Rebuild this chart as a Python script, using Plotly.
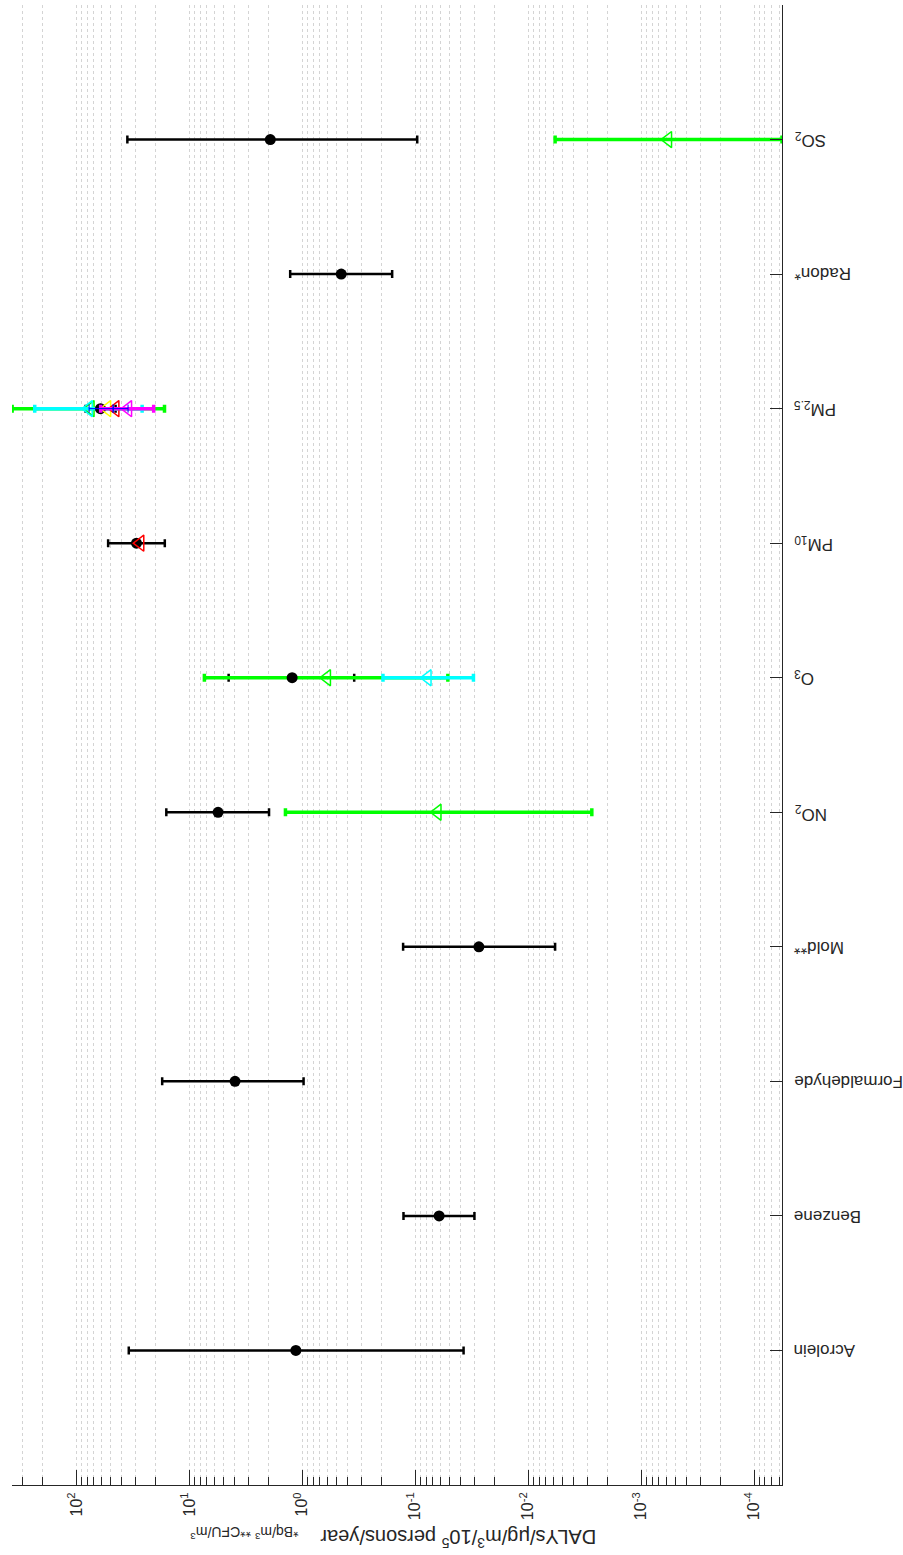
import plotly.graph_objects as go
import numpy as np

# ---------------- data ----------------
categories = ["Acrolein", "Benzene", "Formaldehyde", "Mold**", "NO<sub>2</sub>",
              "O<sub>3</sub>", "PM<sub>10</sub>", "PM<sub>2.5</sub>", "Radon*", "SO<sub>2</sub>"]
cat_pos = list(range(1, 11))

black_val = [1.14, 0.0614, 3.94, 0.0273, 5.57, 1.23, 29.4, 61.3, 0.452, 1.92]
black_hi = [34.4, 0.127, 17.4, 0.128, 16.0, 4.49, 52.4, 83.0, 1.28, 35.4]
black_lo = [0.0373, 0.0299, 0.974, 0.00577, 1.97, 0.347, 16.5, 45.0, 0.16, 0.096]

green_cat = [5, 6, 8, 10]
green_val = [0.0635, 0.605, 75.0, 5.77e-4]
green_hi = [1.41, 7.36, 371.0, 0.00577]
green_lo = [0.00273, 0.0514, 16.6, 5.65e-5]

cyan_cat = [6, 8]
cyan_val = [0.0778, 77.8]
cyan_hi = [0.193, 234.0]
cyan_lo = [0.0305, 26.2]

red_cat = [7, 8]
red_val = [27.2, 45.2]

yellow_cat = [8]
yellow_val = [53.5]

magenta_cat = [8]
magenta_val = [34.9]
magenta_hi = [61.0]
magenta_lo = [20.7]

blue_cat = [8]
blue_val = [47.3]
blue_hi = [77.2]
blue_lo = [34.9]

major_ticks = [1e-4, 1e-3, 1e-2, 1e-1, 1e0, 1e1, 1e2]
major_text = ["10<sup>-4</sup>", "10<sup>-3</sup>", "10<sup>-2</sup>", "10<sup>-1</sup>",
              "10<sup>0</sup>", "10<sup>1</sup>", "10<sup>2</sup>"]
minor_ticks = [m * d for d in [1e-5, 1e-4, 1e-3, 1e-2, 1e-1, 1e0, 1e1, 1e2] for m in range(2, 10)]

x_min, x_max = 5.65e-5, 372.0

AXC = "#262626"
GRID = "#d4d4d4"

# ---------------- figure ----------------
fig = go.Figure()


def err_trace(cats, vals, hi, lo, color, thick, marker=None, msize=12, show_markers=True):
    plus = [h - v for h, v in zip(hi, vals)]
    minus = [v - l for v, l in zip(vals, lo)]
    return go.Scatter(
        x=vals, y=cats, mode="markers",
        marker=dict(symbol=marker or "circle", size=msize, color=color,
                    line=dict(width=1.5, color=color),
                    opacity=1 if show_markers else 0),
        error_x=dict(type="data", symmetric=False, array=plus, arrayminus=minus,
                     color=color, thickness=thick, width=4),
        showlegend=False, hoverinfo="skip")


def tri_trace(cats, vals, color):
    return go.Scatter(x=vals, y=cats, mode="markers",
                      marker=dict(symbol="triangle-left-open", size=14, color=color,
                                  line=dict(width=1.5, color=color)),
                      showlegend=False, hoverinfo="skip")


fig.add_trace(err_trace(cat_pos, black_val, black_hi, black_lo, "black", 2.5, show_markers=False))
fig.add_trace(err_trace(green_cat, green_val, green_hi, green_lo, "#00FF00", 3.5,
                        marker="triangle-left-open", msize=14))
fig.add_trace(err_trace(cyan_cat, cyan_val, cyan_hi, cyan_lo, "#00FFFF", 3.5,
                        marker="triangle-left-open", msize=14))
fig.add_trace(go.Scatter(x=black_val, y=cat_pos, mode="markers",
                         marker=dict(symbol="circle", size=11, color="black"),
                         showlegend=False, hoverinfo="skip"))
fig.add_trace(tri_trace(yellow_cat, yellow_val, "#FFFF00"))
fig.add_trace(tri_trace(red_cat, red_val, "#FF0000"))
fig.add_trace(err_trace(magenta_cat, magenta_val, magenta_hi, magenta_lo, "#FF00FF", 3.5,
                        marker="triangle-left-open", msize=14))
fig.add_trace(err_trace(blue_cat, blue_val, blue_hi, blue_lo, "#0000FF", 1.0,
                        marker="line-ns-open", msize=6))

fig.update_layout(
    width=903, height=1555,
    margin=dict(l=12, r=121, t=5, b=70),
    plot_bgcolor="white", paper_bgcolor="white",
    font=dict(family="Liberation Sans, Arial, sans-serif", color=AXC),
    xaxis=dict(
        type="log", range=[np.log10(x_max), np.log10(x_min)],
        tickmode="array", tickvals=major_ticks, ticktext=major_text,
        tickangle=-90, tickfont=dict(size=16),
        ticks="inside", ticklen=15, tickcolor=AXC, tickwidth=1,
        showline=True, linecolor=AXC, linewidth=1,
        showgrid=True, gridcolor=GRID, griddash="dot", gridwidth=1,
        minor=dict(tickmode="array", tickvals=minor_ticks, ticks="inside", ticklen=8,
                   tickcolor=AXC, showgrid=True, gridcolor=GRID, griddash="dot"),
        zeroline=False, mirror=False,
    ),
    yaxis=dict(
        range=[0, 11], side="right",
        tickmode="array", tickvals=cat_pos, ticktext=[""] * len(cat_pos),
        ticks="inside", ticklen=12, tickcolor=AXC,
        showline=True, linecolor=AXC, linewidth=1,
        showgrid=False, zeroline=False,
    ),
)

# category labels, drawn upside down like the reference
for pos, lab in zip(cat_pos, categories):
    fig.add_annotation(text=lab, textangle=180, xref="paper", yref="y",
                       x=1, y=pos, xanchor="left", yanchor="middle", xshift=10,
                       showarrow=False, font=dict(size=17, color=AXC))

fig.add_annotation(text="DALYs/μg/m<sup>3</sup>/10<sup>5</sup> persons/year",
                   textangle=180, xref="paper", yref="paper", x=0.58, y=0,
                   yshift=-54, showarrow=False, font=dict(size=20, color=AXC),
                   xanchor="center", yanchor="middle")
fig.add_annotation(text="*Bq/m<sup>3</sup> **CFU/m<sup>3</sup>",
                   textangle=180, xref="paper", yref="paper", x=0.301, y=0,
                   yshift=-48, showarrow=False, font=dict(size=14, color=AXC),
                   xanchor="center", yanchor="middle")

fig.write_html("out.html")
